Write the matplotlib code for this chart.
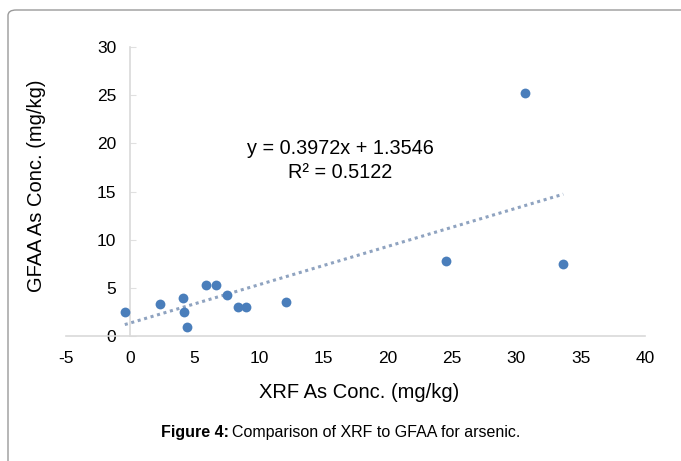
import numpy as np
import matplotlib.pyplot as plt
from matplotlib.patches import FancyBboxPatch

plt.rcParams['font.family'] = ['Liberation Sans', 'DejaVu Sans']
plt.rcParams['axes.unicode_minus'] = False

# XRF vs GFAA arsenic concentrations (mg/kg)
xrf = [-0.43, 2.29, 4.06, 4.18, 4.42, 5.87, 6.62, 7.48, 8.38, 8.98, 12.09, 24.51, 30.70, 33.65]
gfaa = [2.52, 3.29, 3.91, 2.46, 0.97, 5.33, 5.33, 4.29, 3.04, 3.04, 3.56, 7.82, 25.26, 7.48]
slope = 0.3972
intercept = 1.3546
r2 = 0.5122
xticks = [-5, 0, 5, 10, 15, 20, 25, 30, 35, 40]
yticks = [0, 5, 10, 15, 20, 25, 30]

fig = plt.figure(figsize=(6.81, 4.61), dpi=100)

# rounded frame around the figure panel
frame = FancyBboxPatch((8 / 681, -0.2), 1.2, 1.2 - 10 / 461,
                       boxstyle="round,pad=0,rounding_size=0.012",
                       transform=fig.transFigure, fill=False,
                       edgecolor='#9a9a9a', linewidth=1.0)
fig.patches.append(frame)

ax = fig.add_axes([66 / 681, 1 - 336 / 461, (645 - 66) / 681, (336 - 47) / 461])

ax.scatter(xrf, gfaa, s=50, color='#4a7ebb', zorder=3, linewidths=0)

xl = np.array([min(xrf), max(xrf)])
ax.plot(xl, slope * xl + intercept, linestyle=(0, (1, 1.2)), color='#8fa3c0',
        linewidth=2.2, zorder=2)

ax.set_xlim(-5, 40)
ax.set_ylim(0, 30)
ax.set_xticks(xticks)
ax.set_yticks(yticks)

for s in ['top', 'right']:
    ax.spines[s].set_visible(False)
ax.spines['left'].set_position(('data', 0))
ax.spines['left'].set_color('#d9d9d9')
ax.spines['bottom'].set_color('#d9d9d9')
ax.spines['left'].set_linewidth(1.2)
ax.spines['bottom'].set_linewidth(1.2)

ax.tick_params(axis='x', length=0, pad=11, labelsize=12.5)
ax.tick_params(axis='y', direction='in', length=4, color='#e0e0e0', pad=10, labelsize=12.5)

ax.text(16.3, 19.5, "y = %.4fx + %.4f" % (slope, intercept), ha='center', va='center', fontsize=14.3)
ax.text(16.3, 17.0, "R\u00b2 = %.4f" % r2, ha='center', va='center', fontsize=14.3)

fig.text(37 / 681, 1 - 186 / 461, "GFAA As Conc. (mg/kg)", rotation=90,
         ha='center', va='center', fontsize=14.5)
fig.text(359 / 681, 1 - 392 / 461, "XRF As Conc. (mg/kg)", ha='center',
         va='center', fontsize=14.5)

fig.text(229 / 681, 1 - 432 / 461, "Figure 4:", ha='right', va='center',
         fontsize=11.5, fontweight='bold')
fig.text(232 / 681, 1 - 432 / 461, "Comparison of XRF to GFAA for arsenic.",
         ha='left', va='center', fontsize=11.5)

fig.savefig('out.png', dpi=100)
